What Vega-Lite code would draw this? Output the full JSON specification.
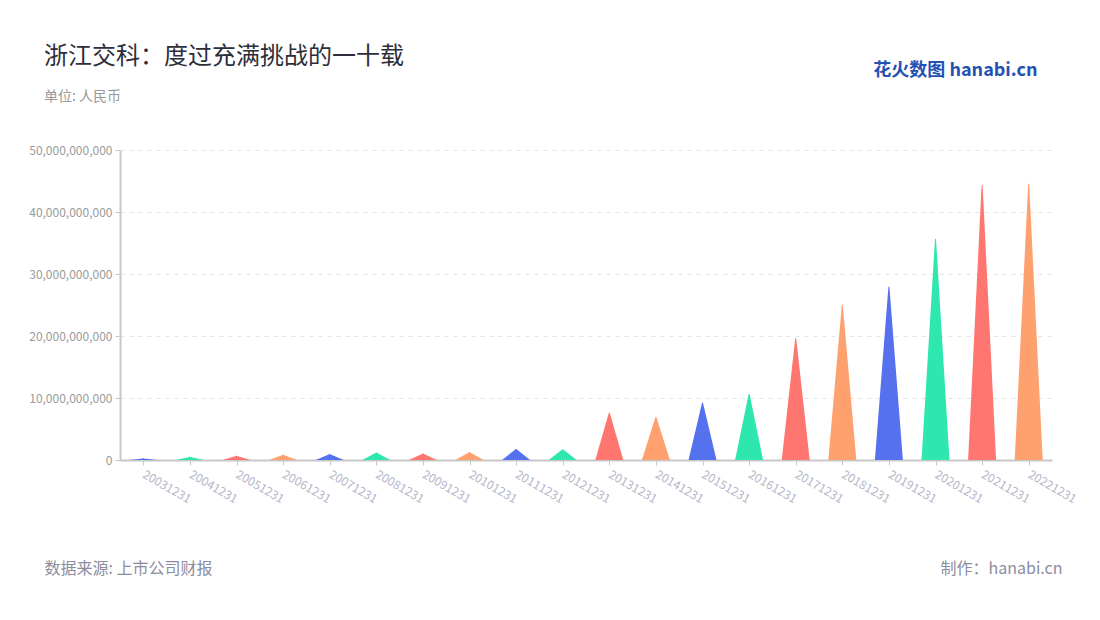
{
  "$schema": "https://vega.github.io/schema/vega-lite/v6.json",
  "width": 932,
  "height": 310,
  "autosize": {"type": "none"},
  "padding": {"left": 120, "top": 150, "right": 48, "bottom": 160},
  "background": "white",
  "config": {"font": "Noto Sans CJK SC", "view": {"stroke": null}},
  "title": {
    "text": "浙江交科：度过充满挑战的一十载",
    "subtitle": "单位: 人民币",
    "anchor": "start",
    "frame": "group",
    "dx": -76,
    "fontSize": 24,
    "fontWeight": "normal",
    "color": "#2e2e3a",
    "subtitleFontSize": 14,
    "subtitleColor": "#999999",
    "subtitlePadding": 21,
    "offset": -43
  },
  "data": {
    "values": [
      {"year": "20031231", "value": 240000000},
      {"year": "20041231", "value": 500000000},
      {"year": "20051231", "value": 650000000},
      {"year": "20061231", "value": 800000000},
      {"year": "20071231", "value": 930000000},
      {"year": "20081231", "value": 1180000000},
      {"year": "20091231", "value": 1020000000},
      {"year": "20101231", "value": 1240000000},
      {"year": "20111231", "value": 1720000000},
      {"year": "20121231", "value": 1680000000},
      {"year": "20131231", "value": 7600000000},
      {"year": "20141231", "value": 6900000000},
      {"year": "20151231", "value": 9200000000},
      {"year": "20161231", "value": 10600000000},
      {"year": "20171231", "value": 19600000000},
      {"year": "20181231", "value": 25000000000},
      {"year": "20191231", "value": 27900000000},
      {"year": "20201231", "value": 35600000000},
      {"year": "20211231", "value": 44300000000},
      {"year": "20221231", "value": 44500000000}
    ]
  },
  "transform": [
    {"fold": ["value"], "as": ["k", "v"]},
    {"impute": "v", "key": "k", "keyvals": ["value", "base"], "groupby": ["year"], "value": 0}
  ],
  "layer": [
    {
      "mark": {"type": "trail", "clip": true, "opacity": 1},
      "encoding": {
        "x": {
          "field": "year",
          "type": "ordinal",
          "scale": {"type": "point", "padding": 0.5},
          "axis": {
            "labelAngle": 30,
            "labelAlign": "left",
            "labelBaseline": "middle",
            "labelFontSize": 12,
            "labelColor": "#b6b6c8",
            "labelPadding": 8,
            "tickSize": 5,
            "tickColor": "#c8c8c8",
            "domainColor": "#c8c8c8",
            "domainWidth": 2,
            "grid": false,
            "title": "数据来源: 上市公司财报",
            "titleX": -76,
            "titleY": 108,
            "titleAlign": "left",
            "titleBaseline": "middle",
            "titleFontSize": 16,
            "titleFontWeight": "normal",
            "titleColor": "#8c8c9e"
          }
        },
        "y": {
          "field": "v",
          "type": "quantitative",
          "scale": {"domain": [0, 50000000000], "nice": false},
          "axis": {
            "values": [0, 10000000000, 20000000000, 30000000000, 40000000000, 50000000000],
            "format": ",.0f",
            "labelFontSize": 12,
            "labelColor": "#9a9a9a",
            "labelPadding": 3,
            "tickSize": 5,
            "tickColor": "#c8c8c8",
            "domainColor": "#c8c8c8",
            "domainWidth": 2,
            "gridDash": [4, 5],
            "gridColor": "#e3e3e3",
            "title": null
          }
        },
        "color": {
          "field": "year",
          "type": "nominal",
          "scale": {"range": ["#5571ee", "#2ee7ae", "#ff7670", "#ffa06f"]},
          "legend": null
        },
        "size": {"condition": {"test": "datum.k === 'base'", "value": 28}, "value": 0},
        "order": {"field": "k", "sort": "ascending"}
      }
    },
    {
      "mark": {"type": "point", "opacity": 0},
      "encoding": {
        "x": {
          "field": "year",
          "type": "ordinal",
          "axis": {
            "orient": "top",
            "labels": false,
            "ticks": false,
            "domain": false,
            "grid": false,
            "title": "花火数图 hanabi.cn",
            "titleX": 917,
            "titleY": -80,
            "titleAlign": "right",
            "titleBaseline": "middle",
            "titleFontSize": 18,
            "titleFontWeight": "bold",
            "titleColor": "#2450b4"
          }
        },
        "y": {
          "field": "v",
          "type": "quantitative",
          "axis": {
            "orient": "right",
            "labels": false,
            "ticks": false,
            "domain": false,
            "grid": false,
            "title": "制作：hanabi.cn",
            "titleAngle": 0,
            "titleX": 10,
            "titleY": 418,
            "titleAlign": "right",
            "titleBaseline": "middle",
            "titleFontSize": 16,
            "titleFontWeight": "normal",
            "titleColor": "#8c8c9e"
          }
        }
      }
    }
  ],
  "resolve": {
    "scale": {"x": "independent", "y": "independent"},
    "axis": {"x": "independent", "y": "independent"}
  }
}
